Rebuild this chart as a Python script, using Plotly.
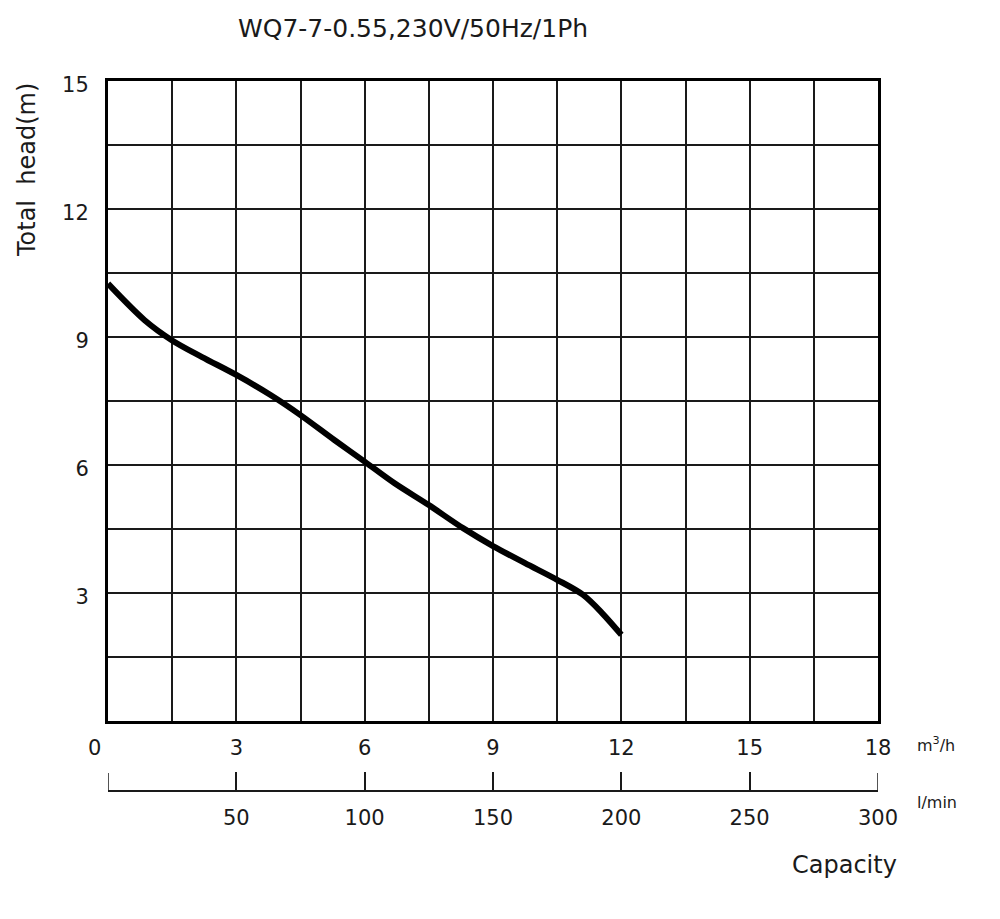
import plotly.graph_objects as go

# pump curve WQ7-7-0.55
flow = [0, 0.85, 1.5, 2.2, 3.0, 3.8, 4.5, 5.3, 6.0, 6.7, 7.5, 8.3, 9.0, 9.75, 10.5, 11.1, 11.55, 12.0]
head = [10.25, 9.4, 8.92, 8.53, 8.11, 7.64, 7.17, 6.58, 6.08, 5.57, 5.06, 4.52, 4.10, 3.70, 3.31, 2.96, 2.53, 2.02]

x_ticks = [0, 3, 6, 9, 12, 15, 18]
x_labels = ["0\u00a0\u00a0\u00a0\u00a0", "3", "6", "9", "12", "15", "18"]
y_ticks = [3, 6, 9, 12, 15]
lmin_ticks = [50, 100, 150, 200, 250, 300]
lmin_edges = [0, 300]

FONT = "DejaVu Sans, Liberation Sans, sans-serif"
INK = "#1a1a1a"

# the page body has an 8px margin, so take it off the figure margins
fig = go.Figure()
fig.add_trace(go.Scatter(x=flow, y=head, mode="lines",
                         line=dict(color="black", width=6, shape="spline", smoothing=0.9),
                         showlegend=False, hoverinfo="skip"))
# dummy trace so the l/min axis gets drawn
fig.add_trace(go.Scatter(x=[0, 300], y=[0, 0], xaxis="x2", mode="markers",
                         marker=dict(opacity=0), showlegend=False, hoverinfo="skip"))

fig.update_layout(
    width=1000, height=919,
    margin=dict(l=100, r=130, t=73, b=136),
    paper_bgcolor="white", plot_bgcolor="white",
    font=dict(family=FONT, size=21, color=INK),
    xaxis=dict(range=[0, 18], tickvals=x_ticks, ticktext=x_labels,
               showgrid=True, gridcolor=INK, gridwidth=1.5,
               minor=dict(dtick=1.5, tick0=0, showgrid=True, gridcolor=INK, gridwidth=1.5),
               showline=True, linecolor="black", linewidth=3, mirror=True,
               ticks="outside", ticklen=6, tickcolor="rgba(0,0,0,0)",
               zeroline=False, fixedrange=True),
    yaxis=dict(domain=[70 / 710, 1], range=[0, 15], tickvals=y_ticks,
               showgrid=True, gridcolor=INK, gridwidth=1.5,
               minor=dict(dtick=1.5, tick0=0, showgrid=True, gridcolor=INK, gridwidth=1.5),
               showline=True, linecolor="black", linewidth=3, mirror=True,
               ticks="outside", ticklen=12, tickcolor="rgba(0,0,0,0)",
               ticklabelshift=4,
               zeroline=False, fixedrange=True),
    xaxis2=dict(overlaying="x", anchor="free", position=0, side="bottom",
                range=[0, 300], tickvals=lmin_ticks,
                showgrid=False, zeroline=False,
                showline=True, linecolor=INK, linewidth=1.5,
                ticks="inside", ticklen=18, tickwidth=1.5, tickcolor=INK,
                ticklabelstandoff=8, fixedrange=True),
)

# plotly drops the inside ticks at the ends of the l/min axis, add them on the x2 scale
for v in lmin_edges:
    fig.add_shape(type="line", xref="x2", yref="paper", x0=v, x1=v, y0=0, y1=18 / 710,
                  line=dict(color=INK, width=1.5))

fig.add_annotation(text="WQ7-7-0.55,230V/50Hz/1Ph", xref="paper", yref="paper",
                   x=0.396, y=1.0746, xanchor="center", yanchor="middle",
                   showarrow=False, font=dict(size=25))
fig.add_annotation(text="Total  head(m)", xref="paper", yref="paper",
                   x=-0.1052, y=0.8746, xanchor="center", yanchor="middle",
                   textangle=-90, showarrow=False, font=dict(size=24))
fig.add_annotation(text="m<sup>3</sup>/h", xref="paper", yref="paper",
                   x=1.0753, y=0.0648, xanchor="center", yanchor="middle",
                   showarrow=False, font=dict(size=16))
fig.add_annotation(text="l/min", xref="paper", yref="paper",
                   x=1.0766, y=-0.0169, xanchor="center", yanchor="middle",
                   showarrow=False, font=dict(size=16))
fig.add_annotation(text="Capacity", xref="paper", yref="paper",
                   x=0.957, y=-0.1042, xanchor="center", yanchor="middle",
                   showarrow=False, font=dict(size=24))

fig.write_html("out.html")
